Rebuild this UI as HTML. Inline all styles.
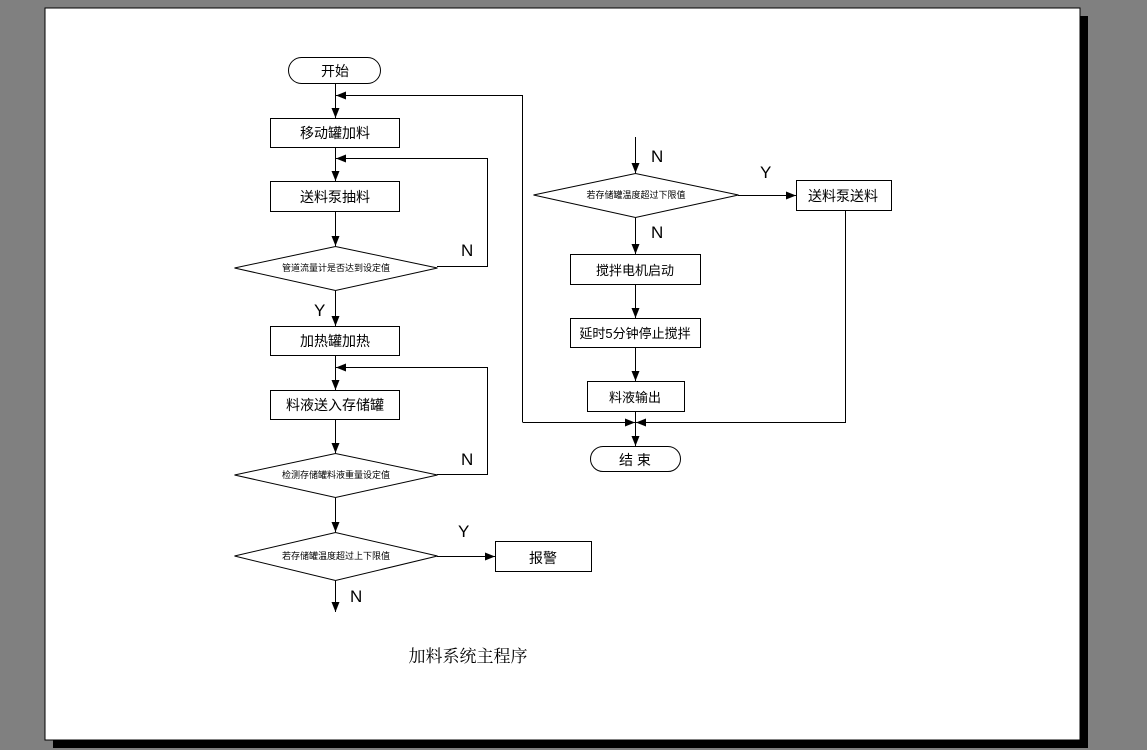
<!DOCTYPE html>
<html><head><meta charset="utf-8"><style>
html,body{margin:0;padding:0;background:#808080;width:1147px;height:750px;overflow:hidden}
svg{display:block}
text{font-family:"Liberation Sans","Noto Sans CJK SC",sans-serif;fill:#000}
</style></head><body>
<svg width="1147" height="750" viewBox="0 0 1147 750" xmlns="http://www.w3.org/2000/svg">
<defs><marker id="a" markerWidth="10" markerHeight="8" refX="10" refY="4" orient="auto" markerUnits="userSpaceOnUse"><path d="M0,0 L10,4 L0,8 Z" fill="#000"/></marker></defs>
<rect x="53" y="16" width="1035" height="732" fill="#000"/>
<rect x="45" y="8" width="1035" height="732" fill="#fff" stroke="#000" stroke-width="1"/>
<g stroke="#000" stroke-width="1" fill="none">
<rect x="288.5" y="57.5" width="92" height="26" rx="13" fill="#fff"/>
<line x1="335.5" y1="84" x2="335.5" y2="118" marker-end="url(#a)"/>
<polyline points="522.5,422 522.5,95.5 336,95.5" marker-end="url(#a)"/>
<rect x="270.5" y="118.5" width="129" height="29"/>
<line x1="335.5" y1="148" x2="335.5" y2="181" marker-end="url(#a)"/>
<rect x="270.5" y="181.5" width="129" height="30"/>
<line x1="335.5" y1="212" x2="335.5" y2="246" marker-end="url(#a)"/>
<polygon points="234.5,268 335.5,246.5 437.5,268 335.5,290.5"/>
<polyline points="437,266.5 487.5,266.5 487.5,158.5 336,158.5" marker-end="url(#a)"/>
<line x1="335.5" y1="291" x2="335.5" y2="326" marker-end="url(#a)"/>
<rect x="270.5" y="326.5" width="129" height="29"/>
<line x1="335.5" y1="356" x2="335.5" y2="390" marker-end="url(#a)"/>
<rect x="270.5" y="390.5" width="129" height="29"/>
<line x1="335.5" y1="420" x2="335.5" y2="453" marker-end="url(#a)"/>
<polyline points="437,474.5 487.5,474.5 487.5,367.5 336,367.5" marker-end="url(#a)"/>
<polygon points="234.5,475 335.5,453.5 437.5,475 335.5,497.5"/>
<line x1="335.5" y1="498" x2="335.5" y2="532" marker-end="url(#a)"/>
<polygon points="234.5,556 335.5,532.5 437.5,556 335.5,580.5"/>
<line x1="437" y1="556.5" x2="495" y2="556.5" marker-end="url(#a)"/>
<rect x="495.5" y="541.5" width="96" height="30"/>
<line x1="335.5" y1="581" x2="335.5" y2="612" marker-end="url(#a)"/>
<line x1="635.5" y1="137" x2="635.5" y2="173" marker-end="url(#a)"/>
<polygon points="533.5,195 635.5,173.5 738.5,195 635.5,217.5"/>
<line x1="738" y1="195.5" x2="796" y2="195.5" marker-end="url(#a)"/>
<rect x="796.5" y="180.5" width="95" height="30"/>
<line x1="635.5" y1="218" x2="635.5" y2="254" marker-end="url(#a)"/>
<rect x="570.5" y="254.5" width="130" height="30"/>
<line x1="635.5" y1="285" x2="635.5" y2="318" marker-end="url(#a)"/>
<rect x="570.5" y="318.5" width="130" height="29"/>
<line x1="635.5" y1="348" x2="635.5" y2="381" marker-end="url(#a)"/>
<rect x="587.5" y="381.5" width="97" height="30"/>
<line x1="635.5" y1="412" x2="635.5" y2="446" marker-end="url(#a)"/>
<line x1="522.5" y1="422.5" x2="635" y2="422.5" marker-end="url(#a)"/>
<polyline points="845.5,211 845.5,422.5 636,422.5" marker-end="url(#a)"/>
<rect x="590.5" y="446.5" width="90" height="25" rx="12.5" fill="#fff"/>
</g>
<g font-size="14" text-anchor="middle">
<text x="335" y="76">开始</text>
<text x="335" y="138">移动罐加料</text>
<text x="335" y="202">送料泵抽料</text>
<text x="335" y="346">加热罐加热</text>
<text x="335" y="410">料液送入存储罐</text>
<text x="543" y="563">报警</text>
<text x="843" y="201">送料泵送料</text>
<text x="635" y="275" font-size="13">搅拌电机启动</text>
<text x="635" y="338" font-size="13">延时5分钟停止搅拌</text>
<text x="635" y="402" font-size="13">料液输出</text>
<text x="635" y="465">结 束</text>
</g>
<g font-size="9" text-anchor="middle">
<text x="336" y="271">管道流量计是否达到设定值</text>
<text x="336" y="478">检测存储罐料液重量设定值</text>
<text x="336" y="559">若存储罐温度超过上下限值</text>
<text x="636" y="198">若存储罐温度超过下限值</text>
</g>
<g font-size="17">
<text x="461" y="256">N</text>
<text x="461" y="465">N</text>
<text x="314" y="316">Y</text>
<text x="458" y="537">Y</text>
<text x="350" y="602">N</text>
<text x="651" y="162">N</text>
<text x="760" y="178">Y</text>
<text x="651" y="238">N</text>
</g>
<text x="468" y="662" font-size="17" text-anchor="middle" style="font-family:'Liberation Serif','Noto Serif CJK SC',serif">加料系统主程序</text>
</svg>
</body></html>
